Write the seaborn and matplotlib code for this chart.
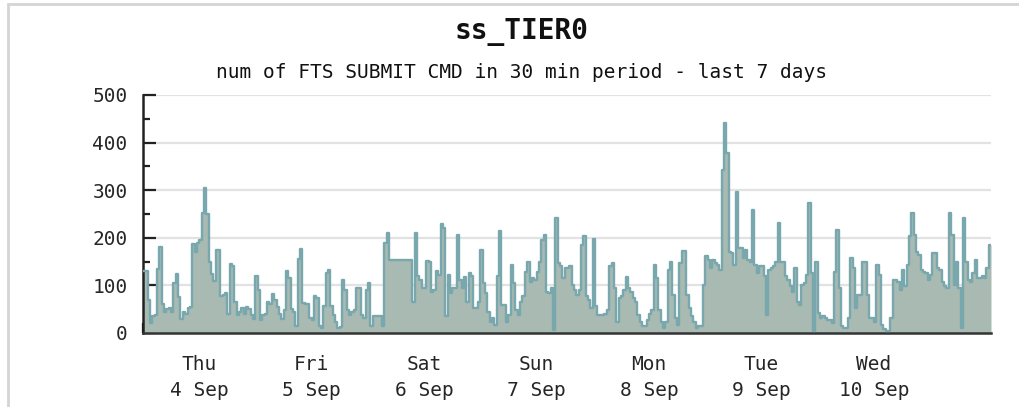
import numpy as np
import matplotlib
matplotlib.use("Agg")
import matplotlib.pyplot as plt
import seaborn as sns
from matplotlib.patches import Rectangle

# number of FTS submit commands per 30 min bin, one list per day (48 bins)
thu_4sep = [130, 130, 70, 20, 35, 38, 135, 180, 60, 45,
            50, 52, 45, 105, 125, 75, 30, 45, 40, 52,
            55, 188, 170, 190, 195, 252, 305, 250, 150, 125,
            110, 175, 175, 78, 80, 84, 40, 145, 140, 65,
            38, 45, 52, 40, 55, 50, 38, 30]
fri_5sep = [120, 90, 28, 38, 40, 65, 60, 82, 70, 55, 40, 30,
            49, 130, 115, 50, 45, 15, 155, 176, 63, 61,
            60, 31, 28, 78, 73, 15, 10, 56, 126, 133,
            56, 38, 24, 10, 12, 112, 91, 49, 38, 45,
            49, 94, 94, 38, 31, 91]
sat_6sep = [105, 14, 35, 35,
            35, 35, 14, 189, 210, 154, 154, 154, 154, 154,
            154, 154, 154, 154, 154, 66, 210, 119, 112, 94,
            94,
            152, 150, 87, 91, 131, 122, 230, 220, 35, 121,
            84, 94, 95, 206, 112, 94, 117, 66, 126, 119,
            52, 52, 66]
sun_7sep = [175, 105, 84, 45, 24, 31, 17,
            119, 215, 59, 59, 24, 38, 143, 105, 49, 38,
            66, 77, 129, 150, 108, 115, 112, 129, 150, 196,
            206, 87, 84, 94, 7, 241, 147, 140, 115, 136, 136,
            140, 100, 91, 80, 91, 185, 203, 77, 70, 52]
mon_8sep = [198, 56, 38, 38, 38, 40, 49, 140, 147, 94,
            24, 73, 77, 91, 117, 95, 87, 73, 66, 38,
            24, 14, 14, 28, 40, 49, 143, 115, 49, 24,
            10, 24, 133, 150, 80, 31, 17, 147, 173, 173,
            80, 52, 35, 24, 10, 14, 14, 101]
tue_9sep = [161, 154,
            136, 154, 147, 143, 133, 343, 441, 378, 171, 168,
            143, 296, 178, 178, 157, 175, 154, 150, 259, 143,
            126, 140, 140, 119, 38, 133, 136, 140, 150, 231,
            150, 150, 119, 112, 98, 87, 136, 66, 59, 101,
            105, 122, 273, 126, 5, 150]
wed_10sep = [42, 31, 35, 31,
             28, 28, 21, 129, 217, 94, 14, 10, 10, 31, 157,
             136, 52, 80, 80, 150, 150, 80, 31, 31, 24,
             143, 122, 17, 9, 5, 5, 31, 112, 112, 108,
             91, 133, 98, 143, 203, 252, 206, 171, 164, 133, 129, 126, 112]
thu_11sep = [122, 168, 168, 136, 133, 108, 98, 94, 252, 206, 101, 150, 94,
             10, 241, 150, 112, 108, 126, 154, 115, 115, 119, 115, 136, 185]

day_labels = ["Thu\n4 Sep", "Fri\n5 Sep", "Sat\n6 Sep", "Sun\n7 Sep",
              "Mon\n8 Sep", "Tue\n9 Sep", "Wed\n10 Sep"]
y_ticks = [0, 100, 200, 300, 400, 500]

title = "ss_TIER0"
subtitle = "num of FTS SUBMIT CMD in 30 min period - last 7 days"

counts = np.array(thu_4sep + fri_5sep + sat_6sep + sun_7sep + mon_8sep
                  + tue_9sep + wed_10sep + thu_11sep, dtype=float)
# x in days since Thu 4 Sep 00:00, one step per 30 min bin
x_edges = np.arange(len(counts) + 1) / 48.0
y_steps = np.append(counts, counts[-1])

sns.set_style("white")
plt.rcParams["font.family"] = ["DejaVu Sans Mono", "DejaVu Sans"]

fig = plt.figure(figsize=(10.19, 4.07), dpi=100)
ax = fig.add_axes([143 / 1019, 74 / 407, 848 / 1019, 238 / 407])

fill_col = "#a8bab1"
line_col = "#78a7ae"

ax.fill_between(x_edges, 0, y_steps, step="post", color=fill_col, lw=0, zorder=2)
sns.lineplot(x=x_edges, y=y_steps, drawstyle="steps-post", color=line_col,
             linewidth=1.7, ax=ax, zorder=3)

ax.set_xlim(0, x_edges[-1])
ax.set_ylim(0, 500)

# horizontal grid
ax.set_yticks(y_ticks)
ax.set_yticks([50, 150, 250, 350, 450], minor=True)
ax.yaxis.grid(True, which="major", color="#e2e2e2", linewidth=1.6, zorder=1)
ax.set_axisbelow(True)
ax.tick_params(axis="y", which="major", direction="in", length=9, width=1.6,
               color="#222222", labelsize=14, pad=11, left=True)
ax.tick_params(axis="y", which="minor", direction="in", length=5, width=1.6,
               color="#222222", left=True)

# day boundaries as ticks, day names centred at noon
ax.set_xticks(np.arange(0, 8))
ax.set_xticklabels([])
ax.set_xticks(np.arange(0.5, 7.5, 1.0), minor=True)
ax.set_xticklabels(day_labels, minor=True)
ax.tick_params(axis="x", which="major", direction="in", length=7, width=1.6,
               color="#111111", bottom=True)
ax.tick_params(axis="x", which="minor", length=0, labelsize=14, pad=16)
for lbl in ax.get_xticklabels(minor=True):
    lbl.set_linespacing(1.45)

for side in ["top", "right"]:
    ax.spines[side].set_visible(False)
ax.spines["left"].set_color("#222222")
ax.spines["left"].set_linewidth(1.8)
ax.spines["bottom"].set_color("#333333")
ax.spines["bottom"].set_linewidth(1.8)
ax.set_xlabel("")
ax.set_ylabel("")

fig.text(0.512, 0.921, title, ha="center", va="center", fontsize=20,
         fontweight="bold", color="#111111")
fig.text(0.512, 0.823, subtitle, ha="center", va="center", fontsize=14,
         color="#111111")

# light frame around the image
fig.patches.append(Rectangle((8 / 1019, -0.05), 1.2, 1.0 - 4 / 407 + 0.05,
                             transform=fig.transFigure, fill=False,
                             edgecolor="#d4d4d4", linewidth=2))

fig.savefig("out.png", dpi=100)
